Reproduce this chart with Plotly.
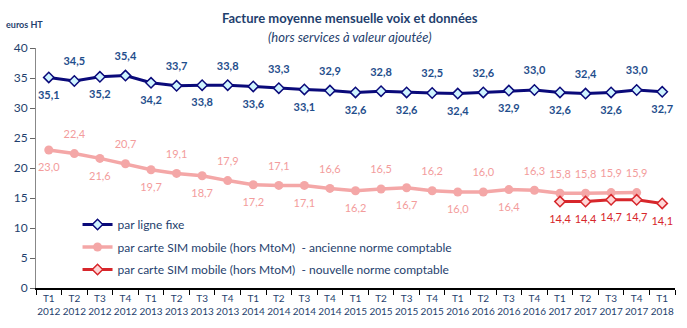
import plotly.graph_objects as go

quarters = ["T1", "T2", "T3", "T4"]
years = [2012, 2013, 2014, 2015, 2016, 2017]
categories = [f"{q}<br>{y}" for y in years for q in quarters] + ["T1<br>2018"]

fixe = [35.1, 34.5, 35.2, 35.4, 34.2, 33.7, 33.8, 33.8, 33.6, 33.3, 33.1, 32.9,
        32.6, 32.8, 32.6, 32.5, 32.4, 32.6, 32.9, 33.0, 32.6, 32.4, 32.6, 33.0, 32.7]
mobile_ancienne = [23.0, 22.4, 21.6, 20.7, 19.7, 19.1, 18.7, 17.9, 17.2, 17.1, 17.1, 16.6,
                   16.2, 16.5, 16.7, 16.2, 16.0, 16.0, 16.4, 16.3, 15.8, 15.8, 15.9, 15.9]
mobile_nouvelle = [14.4, 14.4, 14.7, 14.7, 14.1]
cat_nouvelle = categories[20:]

names = ["par ligne fixe",
         "par carte SIM mobile (hors MtoM)  - ancienne norme comptable",
         "par carte SIM mobile (hors MtoM)  - nouvelle norme comptable"]

NAVY = "#0A0A7A"
LBL_BLUE = "#1F4E8C"
PINK = "#F4A7A7"
RED = "#D7262B"
TXT = "#1F3F6E"
FONT = "Lato"

def fmt(v):
    return f"{v:.1f}".replace(".", ",")

fig = go.Figure()

fig.add_trace(go.Scatter(
    x=categories, y=fixe, name=names[0], mode="lines+markers", legendgroup="a",
    line=dict(color=NAVY, width=3),
    marker=dict(symbol="diamond", size=8, color="#CFF4FF", line=dict(color=NAVY, width=1.5)),
))
fig.add_trace(go.Scatter(
    x=categories[:len(mobile_ancienne)], y=mobile_ancienne, name=names[1], mode="lines+markers",
    legendgroup="b",
    line=dict(color=PINK, width=3.5),
    marker=dict(symbol="circle", size=9, color=PINK),
))
fig.add_trace(go.Scatter(
    x=cat_nouvelle, y=mobile_nouvelle, name=names[2], mode="lines+markers", legendgroup="c",
    line=dict(color=RED, width=3),
    marker=dict(symbol="diamond", size=8, color="#FFD6D6", line=dict(color=RED, width=1.5)),
))

LBL_MARK = dict(size=19, color="rgba(0,0,0,0)")

# data labels
fixe_pos = ["bottom center" if i % 2 == 0 else "top center" for i in range(len(fixe))]
fig.add_trace(go.Scatter(
    x=categories, y=fixe, mode="markers+text", text=[fmt(v) for v in fixe], marker=LBL_MARK,
    textposition=fixe_pos, showlegend=False, hoverinfo="skip",
    textfont=dict(family=FONT, size=11, color=LBL_BLUE, weight="bold"),
))
anc_pos = []
for i in range(len(mobile_ancienne)):
    if i >= 20:
        anc_pos.append("top center")
    else:
        anc_pos.append("bottom center" if i % 2 == 0 else "top center")
fig.add_trace(go.Scatter(
    x=categories[:len(mobile_ancienne)], y=mobile_ancienne, mode="markers+text", marker=LBL_MARK,
    text=[fmt(v) for v in mobile_ancienne], textposition=anc_pos,
    showlegend=False, hoverinfo="skip",
    textfont=dict(family=FONT, size=11, color="#F39C9C"),
))
fig.add_trace(go.Scatter(
    x=cat_nouvelle, y=mobile_nouvelle, mode="markers+text", marker=LBL_MARK,
    text=[fmt(v) for v in mobile_nouvelle], textposition="bottom center",
    showlegend=False, hoverinfo="skip",
    textfont=dict(family=FONT, size=11, color=RED),
))

pw = 687 - 36 - 12
ph = 328 - 48 - 40

fig.update_layout(
    width=687, height=328,
    margin=dict(l=36, r=12, t=48, b=40),
    plot_bgcolor="white", paper_bgcolor="white",
    font=dict(family=FONT, color=TXT, size=11),
    showlegend=True,
    legend=dict(x=0.065, y=(288 - 210) / ph, xanchor="left", yanchor="top",
                bgcolor="rgba(0,0,0,0)", font=dict(size=12, color=TXT),
                traceorder="grouped", tracegroupgap=3.5, itemwidth=30),
)
fig.add_annotation(text="<b>Facture moyenne mensuelle voix et données</b>",
                   x=(350 - 36) / pw, y=(288 - 18) / ph, xref="paper", yref="paper",
                   showarrow=False, font=dict(size=13, color=TXT), xanchor="center", yanchor="middle")
fig.add_annotation(text="<i>(hors services à valeur ajoutée)</i>",
                   x=(350 - 36) / pw, y=(288 - 37) / ph, xref="paper", yref="paper",
                   showarrow=False, font=dict(size=13, color=TXT), xanchor="center", yanchor="middle")
fig.add_annotation(text="<b>euros HT</b>",
                   x=(4 - 36) / pw, y=(288 - 25) / ph, xref="paper", yref="paper",
                   showarrow=False, font=dict(size=9, color=TXT), xanchor="left", yanchor="middle")

fig.update_xaxes(
    type="category", showgrid=False, showline=True, linecolor="black", linewidth=1.5,
    ticks="outside", tickson="boundaries", ticklen=5, tickcolor="black", tickangle=0,
    tickfont=dict(size=10, color=TXT), range=[-0.5, 24.5],
)
fig.update_yaxes(
    range=[0, 40], dtick=5, showgrid=False, showline=True, linecolor="#888888", linewidth=1,
    ticks="outside", ticklen=5, tickcolor="#666666", zeroline=False,
    tickfont=dict(size=12, color=TXT),
)

fig.write_html("out.html")
